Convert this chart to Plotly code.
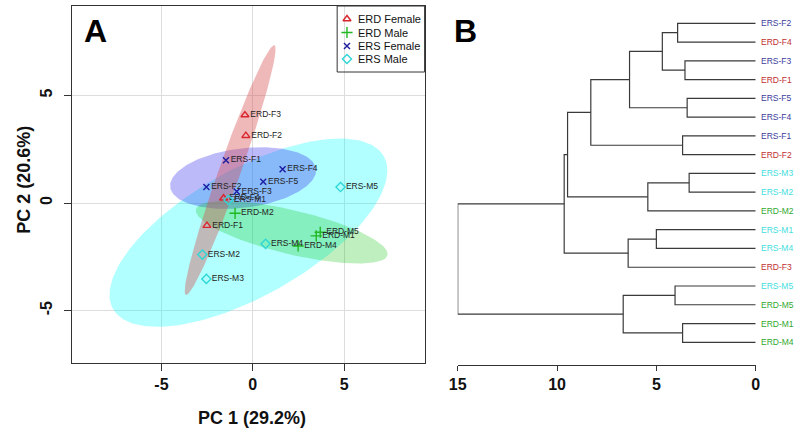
import numpy as np
import plotly.graph_objects as go

W, H = 800, 432
FONT = "Liberation Sans, Arial, sans-serif"

# ---- panel A: PCA scores ----
erd_f_names = ["ERD-F1", "ERD-F2", "ERD-F3", "ERD-F4"]
erd_f_pc1 = [-2.51, -0.38, -0.43, -1.60]
erd_f_pc2 = [-1.05, 3.13, 4.09, 0.22]

erd_m_names = ["ERD-M1", "ERD-M2", "ERD-M4", "ERD-M5"]
erd_m_pc1 = [3.47, -0.97, 2.48, 3.69]
erd_m_pc2 = [-1.53, -0.48, -2.0, -1.36]

ers_f_names = ["ERS-F1", "ERS-F2", "ERS-F3", "ERS-F4", "ERS-F5"]
ers_f_pc1 = [-1.47, -2.54, -0.88, 1.63, 0.57]
ers_f_pc2 = [1.99, 0.74, 0.53, 1.57, 0.99]

ers_m_names = ["ERS-M1", "ERS-M2", "ERS-M3", "ERS-M4", "ERS-M5"]
ers_m_pc1 = [-1.33, -2.76, -2.54, 0.70, 4.80]
ers_m_pc2 = [0.14, -2.40, -3.53, -1.90, 0.74]

pca_ticks = [-5, 0, 5]
pca_ticktext = ["-5", "0", "5"]

# ellipse: centre, two conjugate half-axes (data units)
ell_center = {"ERD Female": (-1.24, 1.53), "ERD Male": (2.13, -1.36),
              "ERS Female": (-0.53, 1.16), "ERS Male": (-0.24, -1.38)}
ell_u = {"ERD Female": (2.42, 5.81), "ERD Male": (5.24, -1.06),
         "ERS Female": (3.99, 0.42), "ERS Male": (7.42, 3.53)}
ell_v = {"ERD Female": (0.56, -0.17), "ERD Male": (-0.27, -1.00),
         "ERS Female": (0.19, -1.37), "ERS Male": (1.65, -2.59)}

groups = ["ERD Female", "ERD Male", "ERS Female", "ERS Male"]
pts = {"ERD Female": (erd_f_names, erd_f_pc1, erd_f_pc2),
       "ERD Male": (erd_m_names, erd_m_pc1, erd_m_pc2),
       "ERS Female": (ers_f_names, ers_f_pc1, ers_f_pc2),
       "ERS Male": (ers_m_names, ers_m_pc1, ers_m_pc2)}
symbols = {"ERD Female": "triangle-up-open", "ERD Male": "cross-thin-open",
           "ERS Female": "x-thin-open", "ERS Male": "diamond-open"}
mcolors = {"ERD Female": "#d9262e", "ERD Male": "#22b822",
           "ERS Female": "#1c1ca0", "ERS Male": "#2ed6d6"}
msizes = {"ERD Female": 7, "ERD Male": 8, "ERS Female": 6, "ERS Male": 7}
fills = {"ERD Female": "rgba(215,70,70,0.38)", "ERD Male": "rgba(0,190,0,0.25)",
         "ERS Female": "rgba(50,40,240,0.32)", "ERS Male": "rgba(0,255,255,0.3)"}

# ---- panel B: dendrogram ----
leaves = ["ERS-F2", "ERD-F4", "ERS-F3", "ERD-F1", "ERS-F5", "ERS-F4", "ERS-F1",
          "ERD-F2", "ERS-M3", "ERS-M2", "ERD-M2", "ERS-M1", "ERS-M4", "ERD-F3",
          "ERS-M5", "ERD-M5", "ERD-M1", "ERD-M4"]
merge_left = ["ERS-F2", "ERS-F3", "m0", "ERS-F5", "m2", "ERS-F1", "m4", "ERS-M3",
              "m7", "ERS-M1", "m9", "m6", "m11", "ERS-M5", "ERD-M1", "m13", "m12"]
merge_right = ["ERD-F4", "ERD-F1", "m1", "ERS-F4", "m3", "ERD-F2", "m5", "ERS-M2",
               "ERD-M2", "ERS-M4", "ERD-F3", "m8", "m10", "ERD-M5", "ERD-M4", "m14", "m15"]
merge_height = [3.93, 3.56, 4.70, 3.45, 6.35, 3.68, 8.30, 3.35, 5.43, 5.00, 6.42,
                9.47, 9.64, 4.06, 3.68, 6.67, 15.0]
dendro_ticks = [15, 10, 5, 0]
label_colors = {"ERS-F": "#3c3c9c", "ERD-F": "#c03030", "ERS-M": "#44dede", "ERD-M": "#2fa82f"}

fig = go.Figure()

# ellipses
t = np.linspace(0, 2 * np.pi, 200)
for g in ["ERS Male", "ERS Female", "ERD Male", "ERD Female"]:
    cx, cy = ell_center[g]
    ux, uy = ell_u[g]
    vx, vy = ell_v[g]
    fig.add_trace(go.Scatter(x=cx + ux * np.cos(t) + vx * np.sin(t),
                             y=cy + uy * np.cos(t) + vy * np.sin(t),
                             mode="lines", fill="toself", fillcolor=fills[g],
                             line=dict(width=0), hoverinfo="skip", showlegend=False))

# points with labels
for g in groups:
    names, px, py = pts[g]
    fig.add_trace(go.Scatter(x=px, y=py, mode="markers+text", text=names,
                             textposition="middle right",
                             textfont=dict(family=FONT, size=8.5, color="#222"),
                             marker=dict(symbol=symbols[g], size=msizes[g], color=mcolors[g],
                                         line=dict(width=1.4, color=mcolors[g])),
                             name=g, showlegend=False))

# dendrogram segments
pos = {name: (0.0, i) for i, name in enumerate(leaves)}
seg_x, seg_y = [], []
for k, (a, b, h) in enumerate(zip(merge_left, merge_right, merge_height)):
    ha, ya = pos[a]
    hb, yb = pos[b]
    seg_x += [ha, h, h, hb, None]
    seg_y += [ya, ya, yb, yb, None]
    pos["m%d" % k] = (h, (ya + yb) / 2)
fig.add_trace(go.Scatter(x=seg_x, y=seg_y, mode="lines", xaxis="x2", yaxis="y2",
                         line=dict(color="#3a3a3a", width=1.2), hoverinfo="skip",
                         showlegend=False))

for i, name in enumerate(leaves):
    fig.add_annotation(x=0, y=i, xref="x2", yref="y2", text=name, showarrow=False,
                       xanchor="left", xshift=3,
                       font=dict(family=FONT, size=8.5, color=label_colors[name[:5]]))

# hand-drawn legend on a pixel-space overlay axis
leg_y = [19, 32.5, 46, 59]
for g, ly in zip(groups, leg_y):
    fig.add_trace(go.Scatter(x=[344], y=[ly], mode="markers", xaxis="x3", yaxis="y3",
                             marker=dict(symbol=symbols[g], size=msizes[g], color=mcolors[g],
                                         line=dict(width=1.4, color=mcolors[g])),
                             cliponaxis=False, hoverinfo="skip", showlegend=False))
    fig.add_annotation(x=353, y=ly, xref="x3", yref="y3", text=g, showarrow=False,
                       xanchor="left", font=dict(family=FONT, size=11, color="#111"))
fig.add_shape(type="rect", xref="x3", yref="y3", x0=334, x1=423, y0=6, y1=72,
              line=dict(color="#333", width=1))

bold16 = dict(family=FONT, size=16, color="#111", weight="bold")
bold18 = dict(family=FONT, size=18, color="#111", weight="bold")

fig.update_layout(
    width=W, height=H, margin=dict(l=0, r=0, t=0, b=0),
    paper_bgcolor="white", plot_bgcolor="rgba(0,0,0,0)", showlegend=False,
    font=dict(family=FONT),
    xaxis=dict(domain=[64 / W, 423 / W], range=[-9.9, 9.4], tickvals=pca_ticks,
               ticktext=pca_ticktext,
               showgrid=True, gridcolor="#dddddd", zeroline=False, showline=True,
               mirror=True, linecolor="#333", ticks="outside", ticklen=7,
               tickcolor="#333", tickfont=bold16),
    yaxis=dict(domain=[1 - 363 / H, 1 - 6 / H], range=[-7.44, 9.16], tickvals=pca_ticks,
               ticktext=pca_ticktext,
               showgrid=True, gridcolor="#dddddd", zeroline=False, showline=True,
               mirror=True, linecolor="#333", ticks="outside", ticklen=7,
               tickcolor="#333", tickfont=bold16, tickangle=-90, ticklabelstandoff=5),
    xaxis2=dict(domain=[456.7 / W, 760 / W], range=[15, 0], tickvals=dendro_ticks,
                showgrid=False, zeroline=False, showline=True, linecolor="#333",
                ticks="outside", ticklen=5, tickcolor="#333", tickfont=bold16,
                anchor="y2"),
    yaxis2=dict(domain=[1 - 365 / H, 1 - 6 / H], range=[18.21, -0.922], visible=False,
                anchor="x2"),
    xaxis3=dict(domain=[0, 1], range=[0, W], visible=False, anchor="y3"),
    yaxis3=dict(domain=[0, 1], range=[H, 0], visible=False, anchor="x3"),
)

fig.add_annotation(x=247 / W, y=1 - 418 / H, xref="paper", yref="paper", text="PC 1 (29.2%)",
                   showarrow=False, xanchor="center", yanchor="middle", font=bold18)
fig.add_annotation(x=15 / W, y=1 - 180 / H, xref="paper", yref="paper", text="PC 2 (20.6%)",
                   showarrow=False, xanchor="center", yanchor="middle", textangle=-90,
                   font=bold18)
fig.add_annotation(x=88 / W, y=1 - 31.5 / H, xref="paper", yref="paper", text="A",
                   showarrow=False, xanchor="center", yanchor="middle",
                   font=dict(family=FONT, size=32, color="#000", weight="bold"))
fig.add_annotation(x=465 / W, y=1 - 31 / H, xref="paper", yref="paper", text="B",
                   showarrow=False, xanchor="center", yanchor="middle",
                   font=dict(family=FONT, size=32, color="#000", weight="bold"))

fig.write_html("out.html", config={"displayModeBar": False},
               post_script="document.body.style.margin='0';")
